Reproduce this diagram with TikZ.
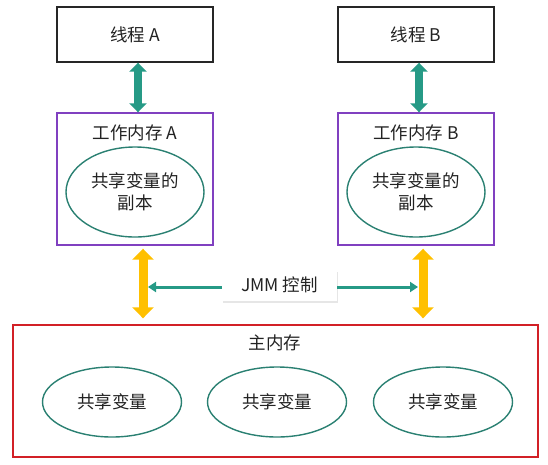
\documentclass[tikz,border=0pt]{standalone}
\usepackage{fontspec}
\setmainfont{Noto Sans CJK SC}
\usetikzlibrary{arrows.meta,shapes.geometric,shadows}
\definecolor{tealarr}{RGB}{38,154,134}
\definecolor{tealline}{RGB}{42,128,114}
\definecolor{wmpurple}{RGB}{128,64,192}
\definecolor{mmred}{RGB}{210,32,38}
\definecolor{ctrlyellow}{RGB}{255,192,0}
\definecolor{txtgray}{RGB}{34,34,34}
\tikzset{
  thbox/.style={draw=black!85,line width=1.4pt,minimum width=156pt,minimum height=55pt},
  wmbox/.style={draw=wmpurple,line width=1.4pt,minimum width=156pt,minimum height=132pt},
  varell/.style={ellipse,draw=tealline,line width=1.4pt,inner sep=0pt,align=center},
  tealarrow/.style={draw=tealarr,line width=7.5pt,{Triangle[width=17pt,length=9pt]}-{Triangle[width=17pt,length=9pt]}},
  yelarrow/.style={draw=ctrlyellow,line width=9pt,{Triangle[width=21pt,length=11pt]}-{Triangle[width=21pt,length=11pt]}},
  ctrlarrow/.style={draw=tealarr,line width=3pt,-{Triangle[width=10pt,length=8pt]}},
}
% one thread with its working memory
\newcommand{\memside}[1]{
\node [thbox] (th#1) at (135,34.5) {线程 #1};
\node [wmbox] (wm#1) at (135,179) {};
\node (wmlbl#1) at (135,133) {工作内存 #1};
\node [varell,minimum width=138pt,minimum height=90pt] (cp#1) at (135,192) {共享变量的\\副本};
\draw[tealarrow] ([xshift=3pt]th#1.south) -- ([xshift=3pt]wm#1.north);
}

\begin{document}
\begin{tikzpicture}[x=1pt,y=-1pt,font=\fontsize{17.5}{22}\selectfont,text=txtgray]
\useasboundingbox (0,0) rectangle (548,464);
\memside{A}
\begin{scope}[xshift=281pt]
\memside{B}
\end{scope}
% main memory
\node [draw=mmred,line width=1.4pt,minimum width=525pt,minimum height=132pt] (mm) at (275.5,391) {};
\node (mmlbl) at (275,343) {主内存};
\node [varell,minimum width=139pt,minimum height=70pt] (sv1) at (112,402) {共享变量};
\node [varell,minimum width=139pt,minimum height=70pt] (sv2) at (277,402) {共享变量};
\node [varell,minimum width=139pt,minimum height=70pt] (sv3) at (443,402) {共享变量};
% JMM control
\coordinate (ylA) at ([xshift=8pt]wmA.south);
\coordinate (ylB) at ([xshift=7pt]wmB.south);
\draw[yelarrow,shorten <=3pt,shorten >=6pt] (ylA) -- (ylA |- mm.north);
\draw[yelarrow,shorten <=3pt,shorten >=6pt] (ylB) -- (ylB |- mm.north);
\node [fill=white,minimum width=115pt,minimum height=31pt,drop shadow={opacity=0.2,shadow xshift=1pt,shadow yshift=-2pt}] (jmm) at (279.5,285) {JMM 控制};
\coordinate (jmL) at ([yshift=-2pt]jmm.west);
\coordinate (jmR) at ([yshift=-2pt]jmm.east);
\draw[ctrlarrow,shorten >=5pt] (jmL) -- (ylA |- jmL);
\draw[ctrlarrow,shorten >=5pt] (jmR) -- (ylB |- jmR);
\end{tikzpicture}
\end{document}
